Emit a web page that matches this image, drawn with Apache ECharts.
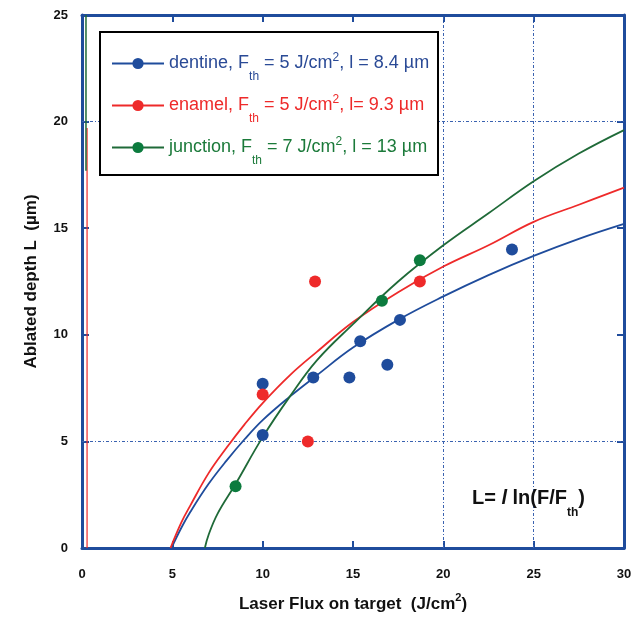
<!DOCTYPE html>
<html><head><meta charset="utf-8">
<script src="https://cdn.jsdelivr.net/npm/echarts@6/dist/echarts.min.js"></script>
<style>html,body{margin:0;padding:0;background:#fff}#c{width:637px;height:617px}</style>
</head><body><div id="c"></div>
<script>
// ---- measured points ----
const dentineFlux  = [10.0, 10.0, 12.8, 14.8, 15.4, 16.9, 17.6, 23.8];
const dentineDepth = [7.7, 5.3, 8.0, 8.0, 9.7, 8.6, 10.7, 14.0];
const enamelFlux   = [10.0, 12.5, 12.9, 18.7];
const enamelDepth  = [7.2, 5.0, 12.5, 12.5];
const junctionFlux  = [8.5, 16.6, 18.7];
const junctionDepth = [2.9, 11.6, 13.5];

// ---- fitted curves ----
const dentineCurveF = [4.95, 5.5, 6.0, 7.0, 8.0, 9.0, 10.0, 11.5, 13.0, 15.0, 17.5, 20.0, 22.5, 25.0, 27.5, 30.0];
const dentineCurveL = [0.0, 0.95, 1.7, 3.0, 4.1, 5.1, 6.0, 7.1, 8.1, 9.4, 10.7, 11.8, 12.8, 13.7, 14.5, 15.2];
const enamelCurveF = [4.9, 5.5, 6.0, 7.0, 8.0, 9.0, 10.0, 11.5, 13.0, 15.0, 17.5, 20.0, 22.5, 25.0, 27.5, 30.0];
const enamelCurveL = [0.0, 1.2, 2.0, 3.5, 4.7, 5.8, 6.8, 8.1, 9.2, 10.6, 12.0, 13.2, 14.2, 15.3, 16.1, 16.9];
const junctionCurveF = [6.8, 7.0, 7.5, 8.5, 10.0, 11.5, 13.0, 15.0, 17.5, 20.0, 22.5, 25.0, 27.5, 30.0];
const junctionCurveL = [0.0, 0.6, 1.6, 3.0, 5.2, 7.1, 8.8, 10.5, 12.5, 14.2, 15.7, 17.2, 18.5, 19.6];

// vertical fragments of the curves near F = 0
const junctionStubF = [0.22, 0.22];
const junctionStubL = [17.7, 25];
const enamelStubF = [0.28, 0.28];
const enamelStubL = [0, 19.7];

// ---- axes / legend text ----
const xTicksMin = 0, xTicksMax = 30, xTickStep = 5;
const yTicksMin = 0, yTicksMax = 25, yTickStep = 5;
const seriesNames = ['dentine', 'enamel', 'junction'];
const legendParts = {
  dentine:  ['dentine, F', ' = 5 J/cm', ', l = 8.4 µm'],
  enamel:   ['enamel, F', ' = 5 J/cm', ', l= 9.3 µm'],
  junction: ['junction, F', ' = 7 J/cm', ', l = 13 µm']
};
const gridValuesY = [5, 20];
const gridValuesX = [20, 25];

const zip = (a, b) => a.map((v, i) => [v, b[i]]);

const FONT = '"Liberation Sans", Arial, sans-serif';
const BLUE = '#1f4c9c', RED = '#ee2a2a', GREEN_PT = '#0c7b3e', GREEN_LN = '#1f6a38';
const FRAME = '#1f4c9c';
const txtColor = {dentine: '#2a4a96', enamel: '#ee2a2a', junction: '#1b7a3a'};

const rich = {};
seriesNames.forEach(n => {
  const c = txtColor[n];
  rich[n + 'T'] = {color: c, fontSize: 18, lineHeight: 24, fontFamily: FONT};
  rich[n + 'S'] = {color: c, fontSize: 12, lineHeight: 24, fontFamily: FONT, padding: [27, 0, 0, 0]};
  rich[n + 'P'] = {color: c, fontSize: 12, lineHeight: 24, fontFamily: FONT, padding: [0, 0, 11, 0]};
});

const chart = echarts.init(document.getElementById('c'), null, {renderer: 'canvas'});

const curveSeries = (name, F, L, color, lineColor) => ({
  name, type: 'line', data: zip(F, L), smooth: 0.4,
  symbol: 'circle', showSymbol: false, silent: true,
  itemStyle: {color}, lineStyle: {color: lineColor, width: 1.8}, z: 3
});
const pointSeries = (name, F, L, color) => ({
  name, type: 'scatter', data: zip(F, L), symbol: 'circle', symbolSize: 12,
  itemStyle: {color, opacity: 1}, z: 5, silent: true
});

const axisCommon = {
  type: 'value', splitLine: {show: false},
  axisLine: {show: true, onZero: false, lineStyle: {color: FRAME, width: 3}},
  axisTick: {show: true, inside: true, length: 7, lineStyle: {color: FRAME, width: 2}}
};
const labelStyle = {color: '#111', fontWeight: 'bold', fontSize: 13, fontFamily: FONT};

chart.setOption({
  animation: false,
  backgroundColor: '#fff',
  grid: {left: 82, right: 13, top: 15, bottom: 69, outerBoundsMode: 'none', containLabel: false},
  title: {
    text: '{a|L= }{i|l}{a| ln(F/F}{s|th}{a|)}',
    left: 472, top: 486, padding: 0,
    textStyle: {
      rich: {
        a: {fontSize: 20, fontWeight: 'bold', lineHeight: 24, color: '#111', fontFamily: FONT},
        i: {fontSize: 20, fontWeight: 'bold', fontStyle: 'italic', lineHeight: 24, color: '#111', fontFamily: FONT},
        s: {fontSize: 12, fontWeight: 'bold', lineHeight: 24, color: '#111', fontFamily: FONT, padding: [29, 0, 0, 0]}
      }
    }
  },
  legend: {
    data: seriesNames,
    orient: 'vertical', left: 111, top: 44, padding: 0,
    itemWidth: 52, itemHeight: 14, itemGap: 3,
    selectedMode: false,
    formatter: n => {
      const p = legendParts[n];
      return `{${n}T|${p[0]}}{${n}S|th}{${n}T|${p[1]}}{${n}P|2}{${n}T|${p[2]}}`;
    },
    textStyle: {rich}
  },
  graphic: [{
    type: 'rect', z: 3, silent: true,
    shape: {x: 100, y: 32, width: 338, height: 143},
    style: {fill: '#fff', stroke: '#000', lineWidth: 2}
  }],
  xAxis: [
    Object.assign({}, axisCommon, {
      min: xTicksMin, max: xTicksMax, interval: xTickStep, position: 'bottom',
      axisLabel: Object.assign({margin: 20}, labelStyle),
      name: '{a|Laser Flux on target  (J/cm}{s|2}{a|)}',
      nameLocation: 'middle', nameGap: 45,
      nameTextStyle: {rich: {
        a: {fontSize: 17, fontWeight: 'bold', color: '#111', lineHeight: 22, fontFamily: FONT},
        s: {fontSize: 11, fontWeight: 'bold', color: '#111', lineHeight: 22, fontFamily: FONT, padding: [0, 0, 12, 0]}
      }}
    }),
    Object.assign({}, axisCommon, {
      min: xTicksMin, max: xTicksMax, interval: xTickStep, position: 'top',
      axisLabel: {show: false}
    })
  ],
  yAxis: [
    Object.assign({}, axisCommon, {
      min: yTicksMin, max: yTicksMax, interval: yTickStep, position: 'left',
      axisLabel: Object.assign({margin: 14}, labelStyle),
      name: 'Ablated depth L  (µm)', nameLocation: 'middle', nameGap: 42,
      nameTextStyle: {fontSize: 17, fontWeight: 'bold', color: '#111', fontFamily: FONT}
    }),
    Object.assign({}, axisCommon, {
      min: yTicksMin, max: yTicksMax, interval: yTickStep, position: 'right',
      axisLabel: {show: false}
    })
  ],
  series: [
    Object.assign(curveSeries('dentine', dentineCurveF, dentineCurveL, BLUE, BLUE), {
      markLine: {
        silent: true, symbol: 'none', z: 1,
        label: {show: false},
        lineStyle: {color: '#3a62b0', width: 1, type: [3, 2, 1, 2]},
        data: gridValuesY.map(v => ({yAxis: v})).concat(gridValuesX.map(v => ({xAxis: v})))
      }
    }),
    curveSeries('enamel', enamelCurveF, enamelCurveL, RED, RED),
    curveSeries('junction', junctionCurveF, junctionCurveL, GREEN_PT, GREEN_LN),
    {name: 'enamel-stub', type: 'line', data: zip(enamelStubF, enamelStubL), showSymbol: false, silent: true,
     lineStyle: {color: RED, width: 1.2}, itemStyle: {color: RED}, z: 2},
    {name: 'junction-stub', type: 'line', data: zip(junctionStubF, junctionStubL), showSymbol: false, silent: true,
     lineStyle: {color: GREEN_LN, width: 1.5}, itemStyle: {color: GREEN_LN}, z: 2},
    pointSeries('dentine points', dentineFlux, dentineDepth, BLUE),
    pointSeries('enamel points', enamelFlux, enamelDepth, RED),
    pointSeries('junction points', junctionFlux, junctionDepth, GREEN_PT)
  ]
});
</script>
</body></html>
